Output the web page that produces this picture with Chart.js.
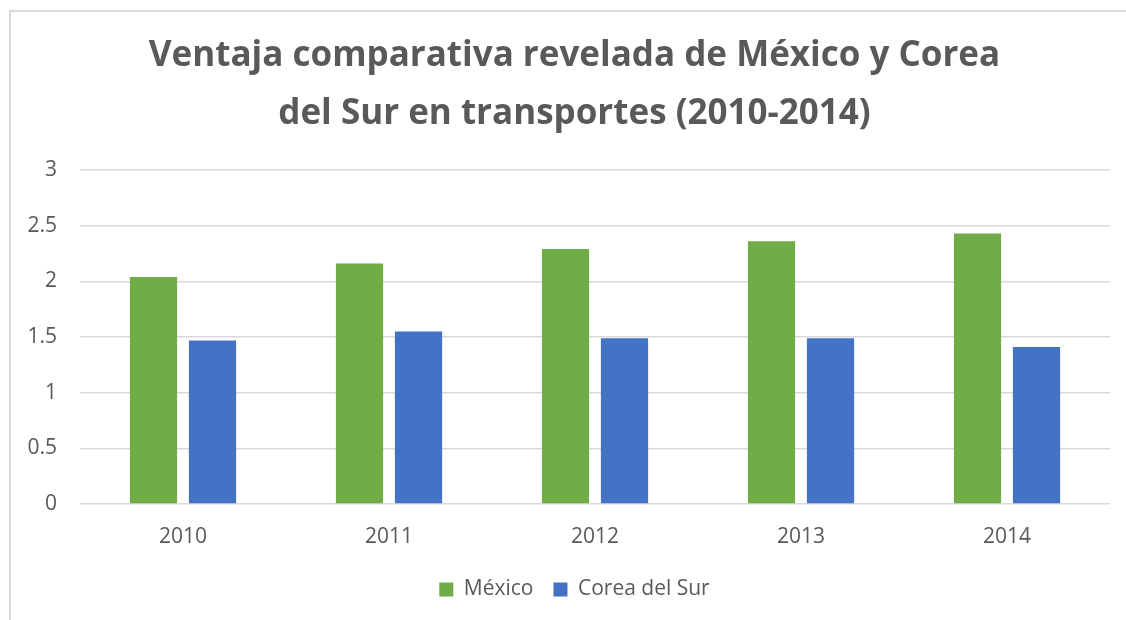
<!DOCTYPE html>
<html>
<head>
<meta charset="utf-8">
<script src="https://cdn.jsdelivr.net/npm/chart.js@4.4.1/dist/chart.umd.min.js"></script>
<style>
  html, body { margin:0; padding:0; background:#fff; }
  #wrap { position:relative; width:1126px; height:620px; overflow:hidden; }
  #frame { position:absolute; left:9px; top:10px; width:1300px; height:800px;
           border-top:2px solid #dadada; border-left:2px solid #dadada; }
  #chart { position:absolute; left:0; top:0; }
</style>
</head>
<body>
<div id="wrap">
  <div id="frame"></div>
  <canvas id="chart" width="1126" height="620"></canvas>
</div>
<script>
const years = ["2010", "2011", "2012", "2013", "2014"];
const mexico = [2.04, 2.16, 2.29, 2.36, 2.43];
const corea = [1.47, 1.55, 1.49, 1.49, 1.41];
const titleLines = ["Ventaja comparativa revelada de México y Corea", "del Sur en transportes (2010-2014)"];
const yTicks = { min: 0, max: 3, step: 0.5 };

const textGray = "#595959";
const gridGray = "#d9d9d9";
const tickFont = { family: "'Open Sans'", size: 21 };

// title and legend in the reference are centred a bit left of the plot
const centerBoxes = {
  id: "centerBoxes",
  afterLayout(chart){
    [chart.titleBlock, chart.legend].forEach(b => {
      b.left = 39;
      b.right = chart.chartArea.right;
      b.width = b.right - b.left;
    });
  }
};

function buildChart(){
  const ctx = document.getElementById("chart");
  return new Chart(ctx, {
    type: "bar",
    data: {
      labels: years,
      datasets: [
        { label: "México", data: mexico, backgroundColor: "#70AD47",
          categoryPercentage: 0.573, barPercentage: 0.8 },
        { label: "Corea del Sur", data: corea, backgroundColor: "#4472C4",
          categoryPercentage: 0.573, barPercentage: 0.8 }
      ]
    },
    options: {
      responsive: false,
      animation: false,
      layout: { padding: { left: 0, right: 16, top: 0, bottom: 10 } },
      plugins: {
        tooltip: { enabled: false },
        title: {
          display: true,
          text: titleLines,
          color: textGray,
          font: { family: "'Open Sans'", weight: "bold", size: 35, lineHeight: 1.63 },
          padding: { top: 28, bottom: 28 }
        },
        legend: {
          position: "bottom",
          labels: {
            color: textGray,
            font: tickFont,
            boxWidth: 14, boxHeight: 14,
            padding: 20
          }
        }
      },
      scales: {
        x: {
          afterFit: (scale) => { scale.height = 55; },
          grid: { display: false, drawTicks: false },
          border: { display: false },
          ticks: { color: textGray, font: tickFont, padding: 20 }
        },
        y: {
          min: yTicks.min, max: yTicks.max,
          afterFit: (scale) => { scale.width = 80; },
          grid: { color: gridGray, lineWidth: 1.5, drawTicks: false },
          border: { display: false },
          ticks: { stepSize: yTicks.step, color: textGray, padding: 23, font: tickFont,
                   callback: (v) => String(v) }
        }
      }
    },
    plugins: [centerBoxes]
  });
}

document.addEventListener("DOMContentLoaded", buildChart);
</script>
</body>
</html>
